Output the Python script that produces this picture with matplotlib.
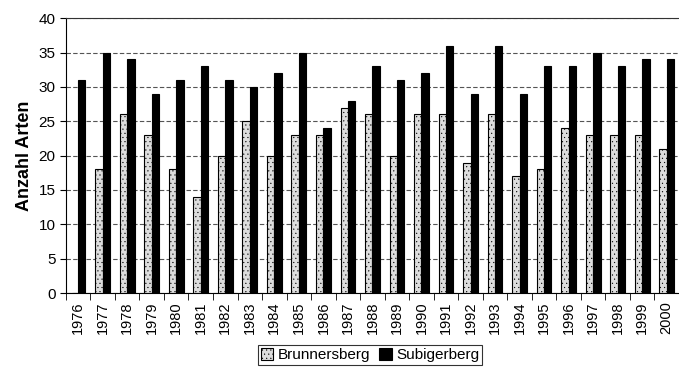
import matplotlib
matplotlib.use("Agg")
import matplotlib.pyplot as plt
import numpy as np

years = [str(y) for y in range(1976, 2001)]
brunnersberg = [0, 18, 26, 23, 18, 14, 20, 25, 20, 23, 23, 27, 26, 20, 26, 26, 19, 26, 17, 18, 24, 23, 23, 23, 21]
subigerberg = [31, 35, 34, 29, 31, 33, 31, 30, 32, 35, 24, 28, 33, 31, 32, 36, 29, 36, 29, 33, 33, 35, 33, 34, 34]

plt.rcParams['font.family'] = ['Liberation Sans', 'DejaVu Sans']
plt.rcParams['hatch.color'] = '#aaaaaa'
plt.rcParams['hatch.linewidth'] = 0.3
fig = plt.figure(figsize=(6.79, 3.71), dpi=100)
ax = fig.add_axes([0.097, 0.21, 0.903, 0.741])

x = np.arange(len(years))
w = 0.3
b1 = ax.bar(x - w/2, brunnersberg, w, color='#dddddd', edgecolor='black', linewidth=0.8,
            hatch='....', label='Brunnersberg', zorder=3)
b2 = ax.bar(x + w/2, subigerberg, w, color='black', edgecolor='black', linewidth=0.8,
            label='Subigerberg', zorder=3)

ax.set_xlim(-0.5, len(years) - 0.5)
ax.set_ylim(0, 40)
ax.set_yticks(range(0, 41, 5))
ax.yaxis.grid(True, color='#555555', linestyle=(0, (4, 2)), linewidth=0.8, zorder=0)
ax.set_xticks(x)
ax.set_xticklabels(years, rotation=90, fontsize=10.5)
ax.set_xticks(np.arange(-0.5, len(years), 1), minor=True)
ax.tick_params(axis='x', which='major', length=0, pad=6)
ax.tick_params(axis='x', which='minor', length=5, direction='out')
ax.tick_params(axis='y', labelsize=11, length=4)
ax.spines['right'].set_visible(False)
ax.spines['top'].set_color('#333333')
ax.set_ylabel('Anzahl Arten', fontsize=13, fontweight='bold')

leg = fig.legend(handles=[b1, b2], loc='lower center', bbox_to_anchor=(0.545, -0.005), ncol=2,
                 frameon=True, fancybox=False, edgecolor='black', fontsize=11,
                 handlelength=0.8, handleheight=0.8, handletextpad=0.3, columnspacing=0.6,
                 borderpad=0.2)
leg.get_frame().set_linewidth(0.8)

fig.savefig('out.png', dpi=100)
